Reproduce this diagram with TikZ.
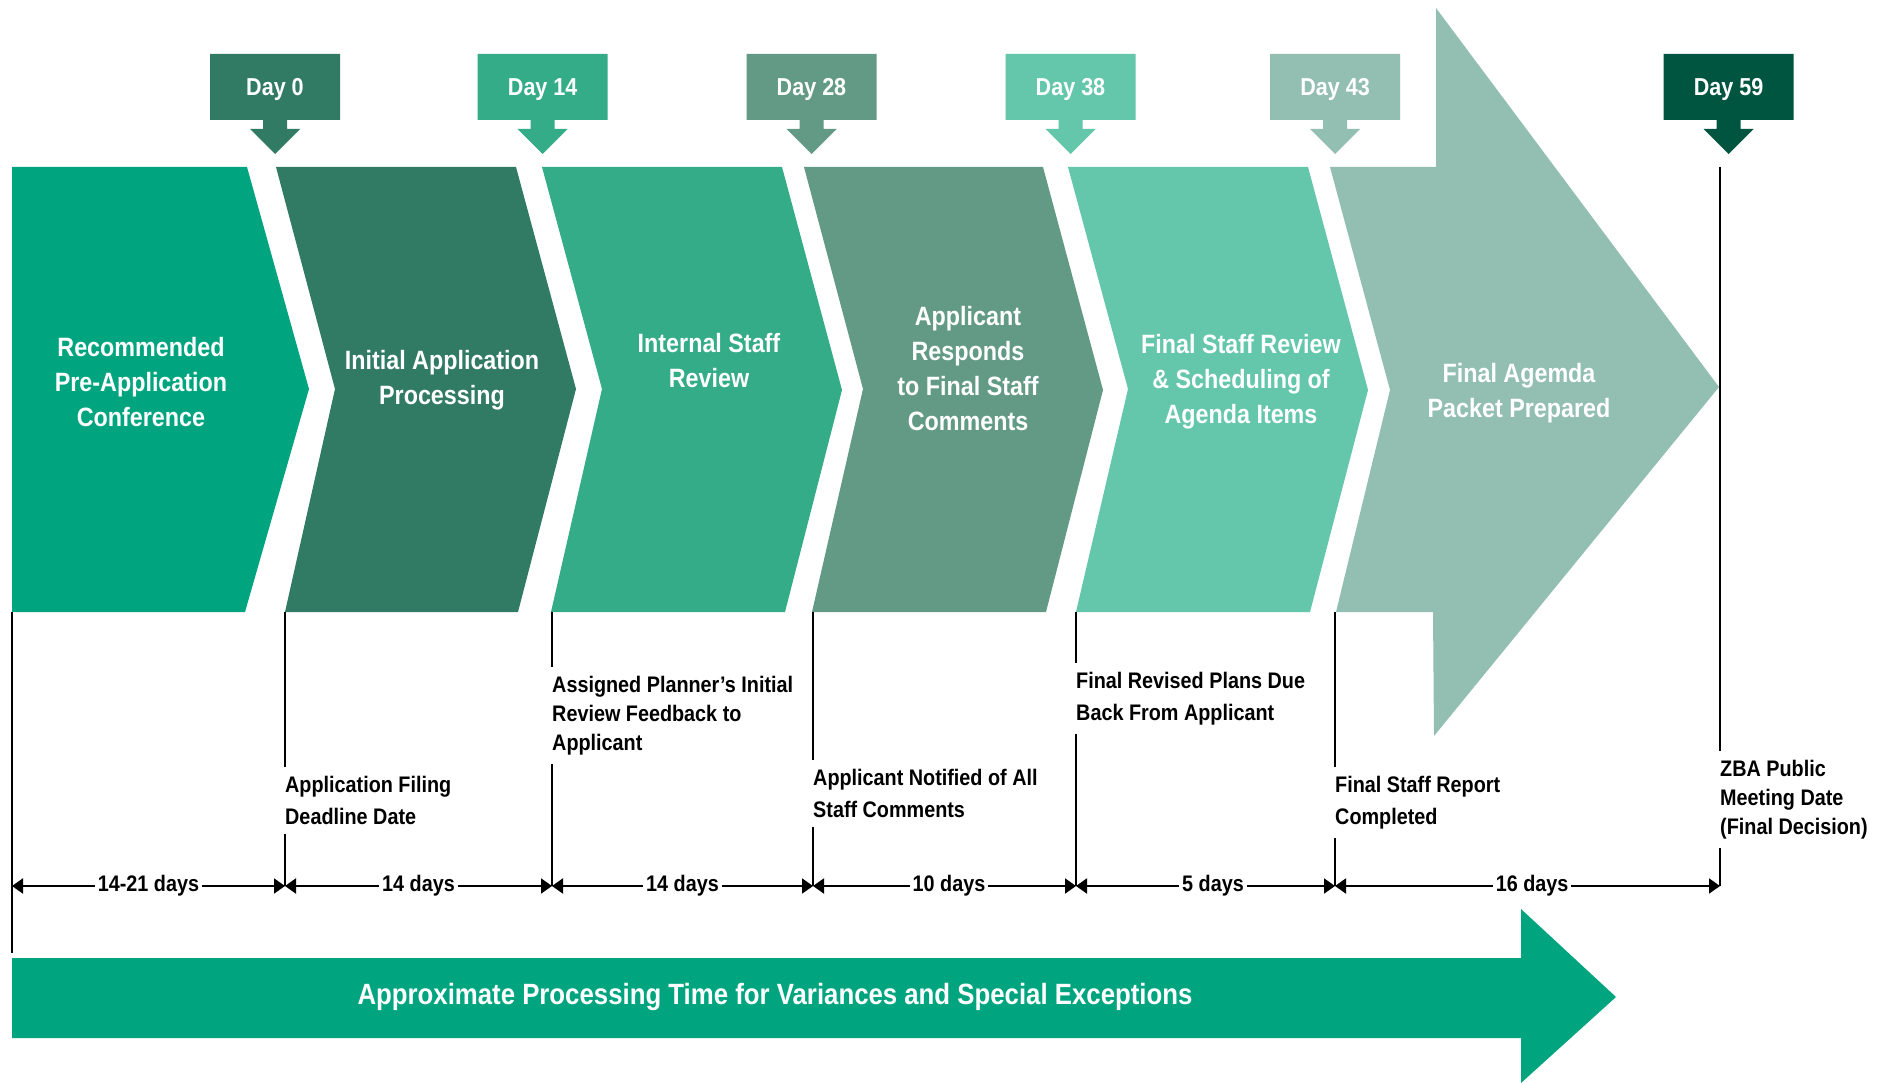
\documentclass[tikz,border=0pt]{standalone}
\usepackage{fontspec}
\setmainfont{Liberation Sans}[FakeStretch=0.88]
\usetikzlibrary{arrows.meta}
\definecolor{cA}{HTML}{00A57F}
\definecolor{cB}{HTML}{317A63}
\definecolor{cC}{HTML}{35AC88}
\definecolor{cD}{HTML}{629A86}
\definecolor{cE}{HTML}{64C6AA}
\definecolor{cF}{HTML}{93BEB2}
\definecolor{cG}{HTML}{005540}
\tikzset{
 chevtext/.style={text=white, align=center, inner sep=0pt, font=\fontsize{26.5}{35}\selectfont\bfseries},
 daytext/.style={text=white, inner sep=0pt, anchor=base, font=\fontsize{24.5}{29}\selectfont\bfseries},
 lbl/.style={anchor=north west, align=left, inner xsep=0pt, inner ysep=9pt, font=\fontsize{22.5}{32}\selectfont\bfseries},
 tightlbl/.style={lbl, font=\fontsize{22.5}{29}\selectfont\bfseries},
 vline/.style={line width=1.6pt, black},
 dimline/.style={line width=2pt, black, {Triangle[length=11pt,width=15pt]}-{Triangle[length=11pt,width=15pt]}},
 dimlbl/.style={fill=white, inner xsep=3pt, inner ysep=2pt, font=\fontsize{22.5}{27}\selectfont\bfseries},
 bartext/.style={text=white, inner sep=0pt, font=\fontsize{29.3}{34}\selectfont\bfseries},
}
\newcommand{\mydaybox}[4]{%
 \fill[#2] ({#1-65},54) -- ({#1+65},54) -- ({#1+65},120) -- ({#1+12},120) -- ({#1+12},129) -- ({#1+25},129) -- (#1,154) -- ({#1-25},129) -- ({#1-12},129) -- ({#1-12},120) -- ({#1-65},120) -- cycle;
 \node[daytext] (#4) at (#1,95.5) {#3};}
\begin{document}
\begin{tikzpicture}[x=1pt,y=-1pt]
\useasboundingbox (0,0) rectangle (1883,1083);
\fill[white] (0,0) rectangle (1883,1083);
% chevrons
\fill[cA] (12,167) -- (247,167) -- (309,389) -- (245,612) -- (12,612) -- cycle;
\fill[cB] (276,167) -- (516,167) -- (576,389) -- (518,612) -- (285,612) -- (335,389) -- cycle;
\fill[cC] (542,167) -- (782,167) -- (842,390) -- (785,612) -- (551,612) -- (602,389) -- cycle;
\fill[cD] (804,167) -- (1043,167) -- (1103,390) -- (1046,612) -- (812,612) -- (863,389) -- cycle;
\fill[cE] (1068,167) -- (1308,167) -- (1368,390) -- (1310,612) -- (1076,612) -- (1128,389) -- cycle;
\fill[cF] (1330,167) -- (1436,167) -- (1436,8) -- (1719,387) -- (1434,736) -- (1433,612) -- (1336,612) -- (1390,390) -- cycle;
% chevron texts
\node[chevtext] (c1) at (141,382) {Recommended\\Pre-Application\\Conference};
\node[chevtext] (c2) at (442,380) {Initial Application\\Processing};
\node[chevtext] (c3) at (709,361) {Internal Staff\\Review};
\node[chevtext] (c4) at (968,369) {Applicant\\Responds\\to Final Staff\\Comments};
\node[chevtext] (c5) at (1241,382) {Final Staff Review\\\& Scheduling of\\Agenda Items};
\node[chevtext] (c6) at (1519,393) {Final Agemda\\Packet Prepared};
% day markers
\mydaybox{275}{cB}{Day 0}{d0}
\mydaybox{542.7}{cC}{Day 14}{d14}
\mydaybox{811.5}{cD}{Day 28}{d28}
\mydaybox{1070.5}{cE}{Day 38}{d38}
\mydaybox{1335}{cF}{Day 43}{d43}
\mydaybox{1728.5}{cG}{Day 59}{d59}
% milestone labels
\node[lbl] (lab1) at (285,766.6) {Application Filing\\Deadline Date};
\node[tightlbl] (lab2) at (552,666.6) {Assigned Planner’s Initial\\Review Feedback to\\Applicant};
\node[lbl] (lab3) at (813,759.6) {Applicant Notified of All\\Staff Comments};
\node[lbl] (lab4) at (1076,662.6) {Final Revised Plans Due\\Back From Applicant};
\node[lbl] (lab5) at (1335,766.6) {Final Staff Report\\Completed};
\node[tightlbl] (lab6) at (1720,750.6) {ZBA Public\\Meeting Date\\(Final Decision)};
% coordinates
\coordinate (b0) at (12,612);   \coordinate (e0) at (12,886);   \coordinate (z0) at (12,953);
\coordinate (b1) at (285,612);  \coordinate (e1) at (285,886);
\coordinate (b2) at (552,612);  \coordinate (e2) at (552,886);
\coordinate (b3) at (813,612);  \coordinate (e3) at (813,886);
\coordinate (b4) at (1076,612); \coordinate (e4) at (1076,886);
\coordinate (b5) at (1335,612); \coordinate (e5) at (1335,886);
\coordinate (b6) at (1720,167); \coordinate (e6) at (1720,886);
% vertical lines
\draw[vline] (b0) -- (z0);
\foreach \i in {1,...,6}{
  \draw[vline] (b\i) -- (lab\i.north west);
  \draw[vline] (lab\i.south west) -- (e\i);
}
% dimension arrows
\draw[dimline] (e0) -- node[dimlbl] (t1) {14-21 days} (e1);
\draw[dimline] (e1) -- node[dimlbl] (t2) {14 days} (e2);
\draw[dimline] (e2) -- node[dimlbl] (t3) {14 days} (e3);
\draw[dimline] (e3) -- node[dimlbl, pos=0.517] (t4) {10 days} (e4);
\draw[dimline] (e4) -- node[dimlbl, pos=0.529] (t5) {5 days} (e5);
\draw[dimline] (e5) -- node[dimlbl, pos=0.512] (t6) {16 days} (e6);
% bottom arrow
\fill[cA] (12,958) -- (1521,958) -- (1521,909) -- (1616,997) -- (1521,1083) -- (1521,1038) -- (12,1038) -- cycle;
\node[bartext] (bar) at (775,997) {Approximate Processing Time for Variances and Special Exceptions};
\end{tikzpicture}
\end{document}
